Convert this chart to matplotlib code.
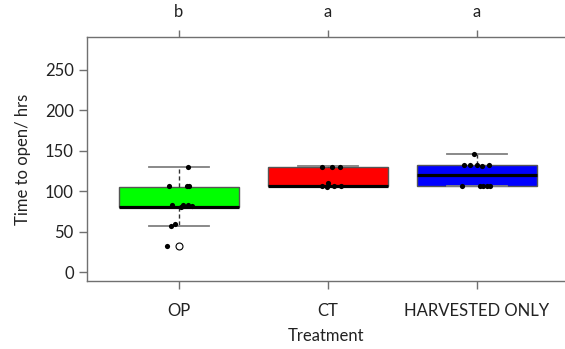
import matplotlib
matplotlib.use("Agg")
import matplotlib.pyplot as plt

plt.rcParams['font.family'] = ['Lato', 'DejaVu Sans']

# ---- data ----
categories = ["OP", "CT", "HARVESTED ONLY"]
letters = ["b", "a", "a"]
box_colors = ["#00FF00", "#FF0000", "#0000FF"]

# box statistics (whisker low, Q1, median, Q3, whisker high)
whislo = [57, 105, 106.5]
q1 = [80, 106.5, 106.5]
med = [80.5, 107, 120.5]
q3 = [105.6, 130, 132.4]
whishi = [129.5, 131.5, 145.5]
fliers = [[32.5], [], []]

op_vals = [129.6, 106.4, 106, 106, 83, 80, 83, 83, 82, 57.3, 60, 32.5]
op_jit = [0.058, -0.065, 0.056, 0.067, -0.049, 0.011, 0.029, 0.062, 0.089, -0.056, -0.027, -0.079]
ct_vals = [130, 130.5, 130, 110, 105, 106, 106, 106]
ct_jit = [-0.04, 0.027, 0.083, 0.0, -0.007, 0.087, -0.04, 0.04]
ho_vals = [145.6, 133, 133, 133, 131.5, 133, 107, 107, 107, 107, 107]
ho_jit = [-0.02, -0.087, -0.047, 0.0, 0.03, 0.083, -0.1, 0.02, 0.042, 0.07, 0.085]

yticks = [0, 50, 100, 150, 200, 250]

fig = plt.figure(figsize=(5.65, 3.49), dpi=100)
ax = fig.add_axes([87/565, 1-281/349, 1-87/565, (281-37)/349])

stats = []
for i in range(3):
    stats.append(dict(whislo=whislo[i], q1=q1[i], med=med[i], q3=q3[i],
                      whishi=whishi[i], fliers=fliers[i], label=categories[i]))

bp = ax.bxp(stats, positions=[1, 2, 3], widths=0.8, patch_artist=True,
            boxprops=dict(edgecolor='#555555', linewidth=1.0),
            medianprops=dict(color='black', linewidth=2.3, solid_capstyle='butt'),
            whiskerprops=dict(color='#333333', linewidth=1.0, linestyle=(0, (3, 2))),
            capprops=dict(color='#808080', linewidth=1.3),
            flierprops=dict(marker='o', markerfacecolor='white', markeredgecolor='black',
                            markersize=5, markeredgewidth=0.8),
            capwidths=0.4, zorder=2)
for patch, c in zip(bp['boxes'], box_colors):
    patch.set_facecolor(c)

for pos, vals, jit in zip([1, 2, 3], [op_vals, ct_vals, ho_vals], [op_jit, ct_jit, ho_jit]):
    ax.scatter([pos + j for j in jit], vals, s=14, color='black', zorder=4, linewidths=0)

ax.set_xlim(0.383, 3.59)
ax.set_ylim(-11.1, 290.8)
ax.set_yticks(yticks)
ax.set_yticklabels([str(v) for v in yticks])
ax.set_xticks([1, 2, 3])
ax.set_xticklabels(categories)

spine_c = '#707070'
for s in ['left', 'bottom', 'top']:
    ax.spines[s].set_color(spine_c)
    ax.spines[s].set_linewidth(1.0)
ax.spines['right'].set_visible(False)

ax.tick_params(axis='both', colors=spine_c, labelcolor='#222222', labelsize=12,
               length=5.5, width=1.0, direction='out')
ax.tick_params(axis='x', pad=10)
ax.tick_params(axis='y', pad=4)

# top axis with significance letters
ax2 = ax.secondary_xaxis('top')
ax2.set_xticks([1, 2, 3])
ax2.set_xticklabels(letters)
ax2.tick_params(colors=spine_c, labelcolor='#222222', labelsize=12, length=5, width=1.0, pad=7)
ax2.spines['top'].set_visible(False)

ax.set_xlabel("Treatment", fontsize=12, color='#222222', labelpad=7)
ax.set_ylabel("Time to open/ hrs", fontsize=12, color='#222222', labelpad=10)

fig.savefig("out.png", dpi=100)
